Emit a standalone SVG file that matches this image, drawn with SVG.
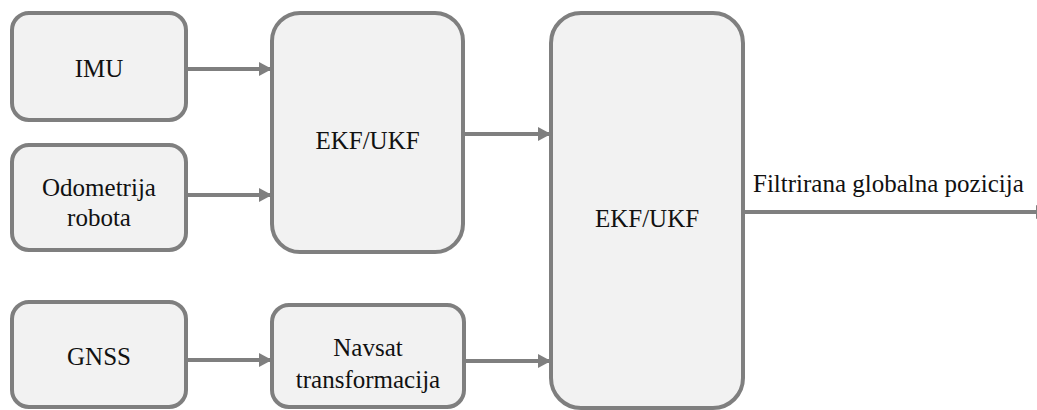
<svg xmlns="http://www.w3.org/2000/svg" width="1037" height="410" viewBox="0 0 1037 410">
<style>
.box{fill:#f2f2f2;stroke:#7f7f7f;stroke-width:4}
.lbl{font-size:25px;fill:#111;text-anchor:middle}
.out{font-size:25px;fill:#111}
.edge{stroke:#7f7f7f;stroke-width:4;fill:none}
</style>
<defs>
<marker id="ah" markerUnits="userSpaceOnUse" markerWidth="14" markerHeight="14" viewBox="0 0 14 14" refX="13" refY="7" orient="auto">
<path d="M0,0 L13,7 L0,14 Z" fill="#7f7f7f"/>
</marker>
</defs>
<g font-family="'Liberation Serif', 'Times New Roman', serif">
<g id="imu"><rect class="box" x="12" y="13" width="174" height="107" rx="17"/><text class="lbl" x="99" y="77">IMU</text></g>
<g id="odom"><rect class="box" x="12" y="145" width="174" height="105" rx="17"/><text class="lbl" x="99" y="196">Odometrija</text><text class="lbl" x="99" y="226">robota</text></g>
<g id="gnss"><rect class="box" x="12" y="302" width="174" height="105" rx="17"/><text class="lbl" x="99" y="365">GNSS</text></g>
<g id="ekf1"><rect class="box" x="272" y="13" width="191" height="239" rx="28"/><text class="lbl" x="367.5" y="149">EKF/UKF</text></g>
<g id="navsat"><rect class="box" x="272" y="305" width="192" height="102" rx="17"/><text class="lbl" x="368" y="356">Navsat</text><text class="lbl" x="368" y="388">transformacija</text></g>
<g id="ekf2"><rect class="box" x="551" y="13" width="192" height="395" rx="30"/><text class="lbl" x="647" y="227">EKF/UKF</text></g>
<g id="connectors">
<line class="edge" x1="186" y1="69" x2="272" y2="69" marker-end="url(#ah)"/>
<line class="edge" x1="186" y1="195" x2="272" y2="195" marker-end="url(#ah)"/>
<line class="edge" x1="186" y1="360" x2="272" y2="360" marker-end="url(#ah)"/>
<line class="edge" x1="464" y1="361" x2="551" y2="361" marker-end="url(#ah)"/>
<line class="edge" x1="463" y1="134" x2="551" y2="134" marker-end="url(#ah)"/>
<line class="edge" x1="743" y1="212" x2="1049" y2="212" marker-end="url(#ah)"/>
<text class="out" x="753" y="192">Filtrirana globalna pozicija</text>
</g>
</g>
</svg>
